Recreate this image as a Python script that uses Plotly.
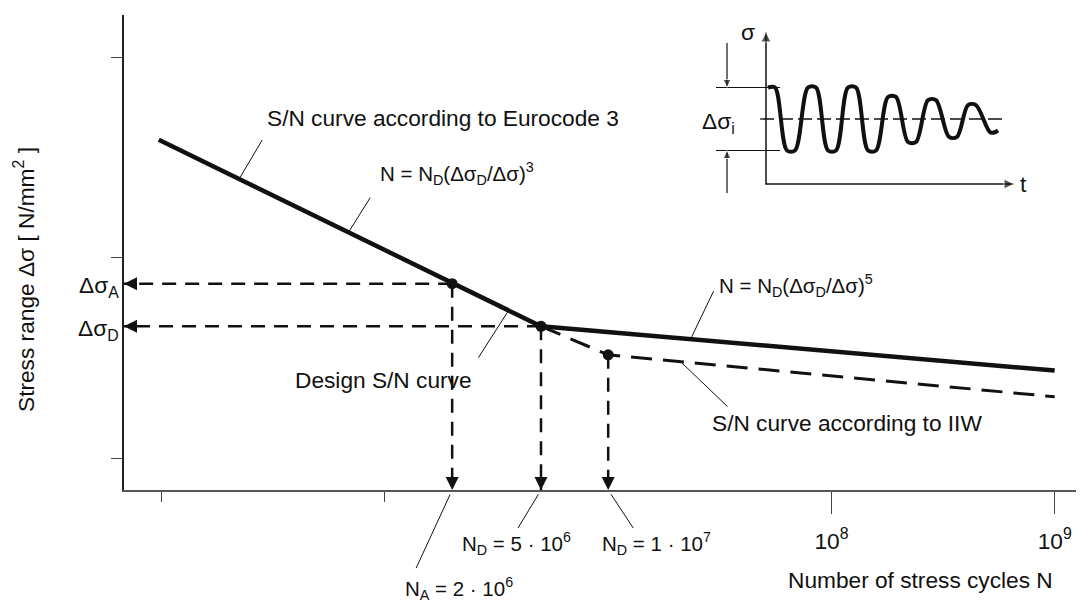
import numpy as np
import plotly.graph_objects as go

# ---- S/N curve data (N = stress cycles, stress range in N/mm^2, schematic scale) ----
ec_N = [9.7e4, 2e6, 5e6, 1e9]            # Eurocode 3 / design curve
ec_sigma = [387.0, 74.0, 45.4, 27.3]
iiw_N = [5e6, 1e7, 1e9]                   # IIW curve (dashed)
iiw_sigma = [45.4, 32.7, 20.2]
point_N = [2e6, 5e6, 1e7]                 # N_A, N_D (EC3), N_D (IIW)
point_sigma = [74.0, 45.4, 32.7]
arrow_sigma = [74.0, 45.4]                # Δσ_A, Δσ_D
arrow_sigma_labels = ["Δσ<sub>A</sub>", "Δσ<sub>D</sub>"]
xtick_vals = [1e8, 1e9]
xtick_text = ["10<sup>8</sup>", "10<sup>9</sup>"]
xminor_vals = [1e5, 1e6]
ytick_vals = [10, 100, 1000]
n_labels = ["N<sub>A</sub> = 2 · 10<sup>6</sup>",
            "N<sub>D</sub> = 5 · 10<sup>6</sup>",
            "N<sub>D</sub> = 1 · 10<sup>7</sup>"]

# ---- inset: variable-amplitude stress history ----
wave_t = [0.1, 0.45, 1.05, 1.45, 2.1, 2.5, 3.1, 3.5, 4.1, 4.5, 5.1, 5.5,
          6.1, 6.5, 7.1, 7.5, 8.1, 8.5, 9.15, 9.55, 10.1, 10.5, 11.2, 11.45, 11.6]
wave_sigma = [1.0, 1.0, -1.0, -1.0, 1.0, 1.0, -1.0, -1.0, 1.0, 1.0, -1.0, -1.0,
              0.70, 0.70, -0.73, -0.73, 0.60, 0.60, -0.57, -0.57, 0.44, 0.44,
              -0.42, -0.42, -0.36]
inset_t_end = 12.4          # tip of the time axis
inset_sigma_top = 2.762     # tip of the stress axis
inset_base = -2.0635        # time axis level
range_levels = [1.0, -1.0]  # extent of Δσ_i

X_RANGE = [4.831, 9.0955]
Y_RANGE = [0.8404, 3.2095]

W, H = 1081, 606
PL, PR, PT, PB = 124, 1076, 15, 490
PW, PH = PR - PL, PB - PT
FONT = "Liberation Sans, Arial, Helvetica, sans-serif"
FS = 22.7      # plain labels
FS_EQ = 20.5   # formulas and cycle labels
INK = "#111111"


def px(x):
    return (x - PL) / PW


def py(y):
    return (PB - y) / PH


def xp(logn):
    return (logn - X_RANGE[0]) / (X_RANGE[1] - X_RANGE[0])


def yp(logs):
    return (logs - Y_RANGE[0]) / (Y_RANGE[1] - Y_RANGE[0])


def on_curve(n, ns, sig):
    return 10 ** np.interp(np.log10(n), np.log10(ns), np.log10(sig))


fig = go.Figure()

# design curve (Eurocode 3)
fig.add_trace(go.Scatter(x=ec_N, y=ec_sigma, mode="lines",
                         line=dict(color=INK, width=4.5)))
# IIW curve
fig.add_trace(go.Scatter(x=iiw_N, y=iiw_sigma, mode="lines",
                         line=dict(color=INK, width=3, dash="21px,11px")))

# dashed projections to the axes, with arrowheads at the axes
x_left = 10 ** (X_RANGE[0] + 1e-5)
y_bottom = 10 ** (Y_RANGE[0] + 1e-5)
dash_line = dict(color=INK, width=2.5, dash="14px,9px")
for n, s in zip(point_N[:2], arrow_sigma):
    fig.add_trace(go.Scatter(x=[n, x_left], y=[s, s], mode="lines", line=dash_line))
for n, s in zip(point_N, point_sigma):
    fig.add_trace(go.Scatter(x=[n, n], y=[s, y_bottom], mode="lines", line=dash_line))
fig.add_trace(go.Scatter(x=[x_left] * len(arrow_sigma), y=arrow_sigma, mode="markers",
                         marker=dict(symbol="arrow-left", size=13, color=INK)))
fig.add_trace(go.Scatter(x=point_N, y=[y_bottom] * len(point_N), mode="markers",
                         marker=dict(symbol="arrow-down", size=13, color=INK)))

fig.add_trace(go.Scatter(x=point_N, y=point_sigma, mode="markers",
                         marker=dict(color=INK, size=11)))

# inset: load history, mean line, Δσ_i extent lines, axes with arrows
inset = dict(xaxis="x2", yaxis="y2", mode="lines")
fig.add_trace(go.Scatter(x=wave_t, y=wave_sigma,
                         line=dict(color=INK, width=4, shape="spline", smoothing=0.9), **inset))
fig.add_trace(go.Scatter(x=[-0.3, 11.85], y=[0, 0],
                         line=dict(color=INK, width=1.3, dash="14px,5px"), **inset))
for lvl in range_levels:
    fig.add_trace(go.Scatter(x=[-2.5, 0.7], y=[lvl, lvl],
                             line=dict(color=INK, width=1.2), **inset))
fig.add_trace(go.Scatter(x=[0, 0, inset_t_end], y=[inset_sigma_top, inset_base, inset_base],
                         line=dict(color=INK, width=1.5), **inset))
fig.add_trace(go.Scatter(x=[-1.95, -1.95, None, -1.95, -1.95],
                         y=[2.41, range_levels[0], None, -2.35, range_levels[1]],
                         line=dict(color=INK, width=1.2), **inset))
fig.add_trace(go.Scatter(x=[0, inset_t_end, -1.95, -1.95],
                         y=[inset_sigma_top, inset_base, range_levels[0], range_levels[1]],
                         xaxis="x2", yaxis="y2", mode="markers",
                         marker=dict(symbol=["arrow-up", "arrow-right", "arrow-down", "arrow-up"],
                                     size=[10, 10, 8, 8], color=INK)))

# leader lines: start on the curve (or just below the axis), end at a pixel offset
shapes = []


def leader(x0p, y0p, dx, dy, standoff=0.0):
    length = np.hypot(dx, dy)
    sx, sy = dx / length * standoff, dy / length * standoff
    shapes.append(dict(type="line", xref="paper", yref="paper",
                       x0=x0p + sx / PW, y0=y0p - sy / PH,
                       x1=x0p + dx / PW, y1=y0p - dy / PH,
                       line=dict(color=INK, width=1)))


for n, ns, sig, dx, dy in [
    (10 ** 5.3466, ec_N, ec_sigma, 23, -39),
    (10 ** 5.8354, ec_N, ec_sigma, 22, -35),
    (10 ** 6.553, ec_N, ec_sigma, -30, 47),
    (10 ** 7.369, ec_N, ec_sigma, 23, -48),
    (10 ** 7.3242, iiw_N, iiw_sigma, 47, 45),
]:
    leader(xp(np.log10(n)), yp(np.log10(on_curve(n, ns, sig))), dx, dy, standoff=2)
for n, dx, dy in zip(point_N, [-36, -23, 25], [78, 38, 38]):
    leader(xp(np.log10(n)), 0.0, dx, dy, standoff=5)

ann = []
txt = dict(font=dict(family=FONT, size=FS, color=INK), showarrow=False)
ptxt = dict(xref="paper", yref="paper", **txt)
etxt = dict(xref="paper", yref="paper", showarrow=False,
            font=dict(family=FONT, size=FS_EQ, color=INK))

# axis labels for Δσ_A, Δσ_D
for s, lab in zip(arrow_sigma, arrow_sigma_labels):
    ann.append(dict(x=px(121), y=np.log10(s), xref="paper", yref="y", text=lab,
                    xanchor="right", yanchor="middle", yshift=-3, **txt))

# curve labels
ann += [
    dict(x=px(265), y=py(118), text="S/N curve according to Eurocode 3",
         xanchor="left", yanchor="middle", **ptxt),
    dict(x=px(378), y=py(174), text="N = N<sub>D</sub>(Δσ<sub>D</sub>/Δσ)<sup>3</sup>",
         xanchor="left", yanchor="middle", **etxt),
    dict(x=px(383.5), y=py(380), text="Design S/N curve",
         xanchor="center", yanchor="middle", **ptxt),
    dict(x=px(717), y=py(285), text="N = N<sub>D</sub>(Δσ<sub>D</sub>/Δσ)<sup>5</sup>",
         xanchor="left", yanchor="middle", **etxt),
    dict(x=px(710), y=py(423), text="S/N curve according to IIW",
         xanchor="left", yanchor="middle", **ptxt),
    dict(x=px(403), y=py(588), text=n_labels[0], xanchor="left", yanchor="middle", **etxt),
    dict(x=px(460), y=py(543), text=n_labels[1], xanchor="left", yanchor="middle", **etxt),
    dict(x=px(600), y=py(543), text=n_labels[2], xanchor="left", yanchor="middle", **etxt),
    dict(x=px(1055), y=py(580), text="Number of stress cycles N",
         xanchor="right", yanchor="middle", **ptxt),
    dict(x=px(24), y=py(280), text="Stress range Δσ [ N/mm<sup>2</sup> ]", textangle=-90,
         xanchor="center", yanchor="middle", **ptxt),
]

# inset labels
ann += [
    dict(x=-0.9, y=inset_sigma_top, xref="x2", yref="y2", text="σ",
         xanchor="center", yanchor="middle", **txt),
    dict(x=-1.45, y=0, xref="x2", yref="y2", text="Δσ<sub>i</sub>", xanchor="right",
         yanchor="middle", yshift=-3, **txt),
    dict(x=12.85, y=inset_base, xref="x2", yref="y2", text="t", xanchor="center",
         yanchor="middle", **txt),
]

fig.update_layout(
    width=W, height=H,
    margin=dict(l=PL, r=W - PR, t=PT, b=H - PB, pad=0),
    paper_bgcolor="white", plot_bgcolor="white",
    showlegend=False,
    font=dict(family=FONT, size=FS, color=INK),
    xaxis=dict(type="log", range=X_RANGE, showgrid=False, zeroline=False,
               showline=True, linecolor="#555555", linewidth=1.5,
               tickmode="array", tickvals=xtick_vals, ticktext=xtick_text,
               ticks="outside", ticklen=22, tickwidth=1.2, tickcolor="#444444",
               ticklabelstandoff=8,
               minor=dict(tickmode="array", tickvals=xminor_vals, ticks="outside",
                          ticklen=10, tickwidth=1.2, tickcolor="#444444", showgrid=False),
               tickfont=dict(family=FONT, size=FS, color=INK)),
    yaxis=dict(type="log", range=Y_RANGE, showgrid=False, zeroline=False,
               showline=True, linecolor="#222222", linewidth=1.5,
               tickmode="array", tickvals=ytick_vals, showticklabels=False,
               ticks="outside", ticklen=11, tickwidth=1.2, tickcolor="#444444"),
    xaxis2=dict(domain=[px(700), px(1035)], range=[-3.3, 13.45], visible=False,
                anchor="y2", showgrid=False),
    yaxis2=dict(domain=[py(200), py(20)], range=[-2.5714, 3.1429], visible=False,
                anchor="x2", showgrid=False),
    annotations=ann,
    shapes=shapes,
)

fig.write_html("out.html")
